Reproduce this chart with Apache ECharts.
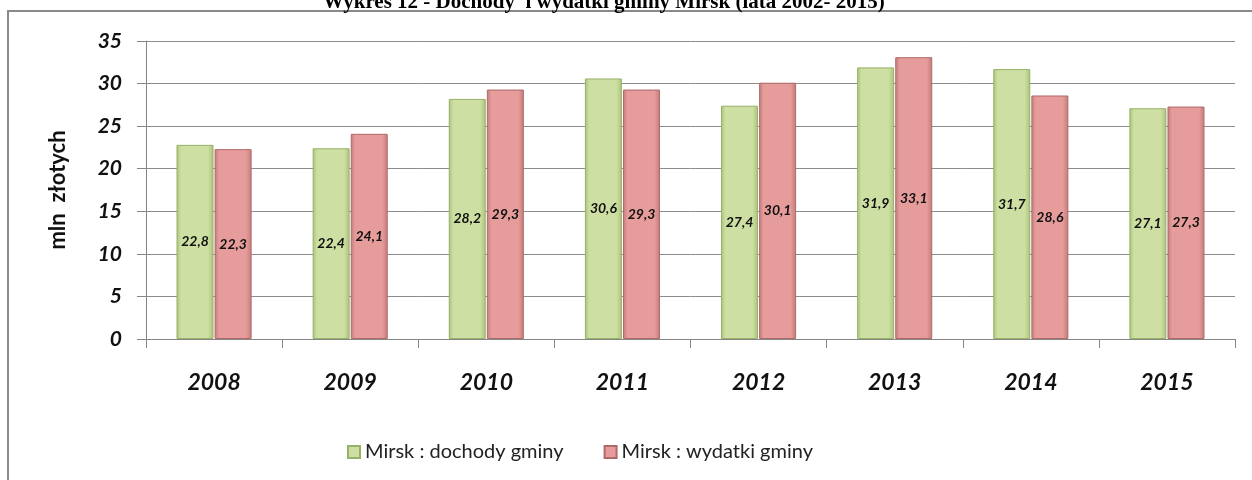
<!DOCTYPE html>
<html>
<head>
<meta charset="utf-8">
<script src="https://cdn.jsdelivr.net/npm/echarts@6/dist/echarts.min.js"></script>
<style>
  html, body { margin: 0; padding: 0; background: #fff; }
  #chart { width: 1252px; height: 480px; }
</style>
</head>
<body>
<div id="chart"></div>
<script>
// dane
var years = ['2008', '2009', '2010', '2011', '2012', '2013', '2014', '2015'];
var dochody = [22.8, 22.4, 28.2, 30.6, 27.4, 31.9, 31.7, 27.1];
var wydatki = [22.3, 24.1, 29.3, 29.3, 30.1, 33.1, 28.6, 27.3];
var yTicks = [0, 5, 10, 15, 20, 25, 30, 35];

var chart = echarts.init(document.getElementById('chart'));

// gradient "3D" slupkow
function barFill(edge, mid) {
  return new echarts.graphic.LinearGradient(0, 0, 1, 0, [
    { offset: 0, color: edge },
    { offset: 0.12, color: mid },
    { offset: 0.85, color: mid },
    { offset: 1, color: edge }
  ]);
}

var labelStyle = {
  show: true,
  position: 'inside',
  color: '#111',
  fontFamily: 'Lato',
  fontStyle: 'italic',
  fontWeight: 'bold',
  fontSize: 14,
  formatter: function (p) { return String(p.value).replace('.', ','); }
};

var option = {
  animation: false,
  title: {
    text: 'Wykres 12 - Dochody  i wydatki gminy Mirsk (lata 2002- 2015)',
    left: 318,
    top: -13,
    textStyle: { fontFamily: 'Liberation Serif', fontSize: 21, fontWeight: 'bold', color: '#000' }
  },
  graphic: [{
    type: 'rect',
    shape: { x: 8, y: 11, width: 1260, height: 480 },
    style: { fill: '#fff', stroke: '#8a8a8a', lineWidth: 2 },
    z: -10,
    silent: true
  }],
  legend: {
    left: 342,
    top: 437,
    itemWidth: 12,
    itemHeight: 12,
    itemGap: 40,
    icon: 'rect',
    textStyle: { fontFamily: 'Lato', fontSize: 20, color: '#222' },
    data: ['Mirsk : dochody gminy', 'Mirsk : wydatki gminy']
  },
  grid: { left: 146, right: 17, top: 41, bottom: 141 },
  xAxis: {
    type: 'category',
    data: years,
    axisLine: { lineStyle: { color: '#868686', width: 1 } },
    axisTick: { show: true, length: 9, lineStyle: { color: '#868686' } },
    axisLabel: {
      margin: 32,
      color: '#111',
      fontFamily: 'Lato',
      fontStyle: 'italic',
      fontWeight: 'bold',
      fontSize: 23
    }
  },
  yAxis: {
    type: 'value',
    min: 0,
    max: 35,
    interval: 5,
    name: 'mln  złotych',
    nameLocation: 'middle',
    nameGap: 77,
    nameTextStyle: { fontFamily: 'Lato', fontWeight: 'bold', fontSize: 22, color: '#111' },
    axisLine: { show: true, lineStyle: { color: '#868686' } },
    axisTick: { show: true, length: 9, lineStyle: { color: '#868686' } },
    splitLine: { lineStyle: { color: '#8c8c8c', width: 1 } },
    axisLabel: {
      margin: 24,
      color: '#111',
      fontFamily: 'Lato',
      fontStyle: 'italic',
      fontWeight: 'bold',
      fontSize: 21,
      customValues: yTicks
    }
  },
  series: [
    {
      name: 'Mirsk : dochody gminy',
      type: 'bar',
      data: dochody,
      barWidth: 37,
      barGap: '3%',
      itemStyle: {
        color: barFill('#a9c27a', '#cddfa2'),
        borderColor: '#98b068',
        borderWidth: 1
      },
      label: labelStyle
    },
    {
      name: 'Mirsk : wydatki gminy',
      type: 'bar',
      data: wydatki,
      barWidth: 37,
      itemStyle: {
        color: barFill('#c27a7a', '#e59c9b'),
        borderColor: '#b06a6a',
        borderWidth: 1
      },
      label: labelStyle
    }
  ]
};

chart.setOption(option);
</script>
</body>
</html>
